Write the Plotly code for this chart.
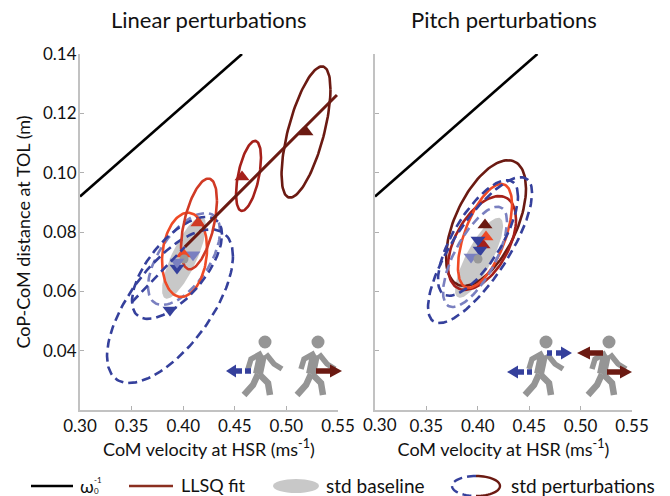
import numpy as np
import plotly.graph_objects as go

W, H = 670, 496
FONT = "Lato"
DARK, MID, RED, ORANGE = "#6b1a12", "#a5201a", "#d03a25", "#ef4a26"
GRAY, LIGHT, BLUE = "#c8c8c8", "#7a80c0", "#35409c"
WALK = "#959595"

x_ticks = [0.30, 0.35, 0.40, 0.45, 0.50, 0.55]
x_labels = ["0.30", "0.35", "0.40", "0.45", "0.50", "0.55"]
y_ticks = [0.04, 0.06, 0.08, 0.10, 0.12, 0.14]
omega_x = [0.30, 0.457]
omega_y = [0.092, 0.14]
omega_xr = [0.30, 0.458]
omega_yr = [0.092, 0.14]
fit_x = [0.4017, 0.549]
fit_y = [0.0750, 0.1262]
fit_blue_x = [0.3504, 0.4017]
fit_blue_y = [0.0564, 0.0750]

left_colors = [GRAY, LIGHT, ORANGE, BLUE, BLUE, RED, MID, DARK]
left_cx = [0.4008, 0.4008, 0.4013, 0.3940, 0.3872, 0.4153, 0.4633, 0.5190]
left_cy = [0.0713, 0.0709, 0.0723, 0.0679, 0.0550, 0.0827, 0.0989, 0.1137]
left_sx = [0.0213, 0.0349, 0.0218, 0.0436, 0.0610, 0.0174, 0.0121, 0.0237]
left_sy = [0.0138, 0.0155, 0.0142, 0.0172, 0.0259, 0.0153, 0.0118, 0.0221]
left_rho = [0.78, 0.60, 0.15, 0.65, 0.65, 0.52, 0.52, 0.65]
left_mx = [0.4008, 0.4095, 0.4000, 0.3940, 0.3872, 0.4143, 0.4570, 0.5190]
left_my = [0.0709, 0.0723, 0.0726, 0.0679, 0.0537, 0.0830, 0.0985, 0.1137]
left_sym = ["circle", "triangle-down", "triangle-up", "triangle-down", "triangle-down",
            "triangle-up", "triangle-up", "triangle-up"]
left_extra_x = [0.3940]
left_extra_y = [0.0699]

right_colors = [GRAY, DARK, MID, ORANGE, LIGHT, BLUE, BLUE]
right_cx = [0.4012, 0.4080, 0.4041, 0.4070, 0.3973, 0.4002, 0.4022]
right_cy = [0.0713, 0.0830, 0.0763, 0.0787, 0.0716, 0.0780, 0.0739]
right_sx = [0.0234, 0.0389, 0.0331, 0.0263, 0.0311, 0.0389, 0.0506]
right_sy = [0.0135, 0.0212, 0.0158, 0.0175, 0.0169, 0.0195, 0.0246]
right_rho = [0.80, 0.55, 0.50, 0.60, 0.70, 0.72, 0.78]
right_mx = [0.4002, 0.4070, 0.4051, 0.4080, 0.3934, 0.4002, 0.4022]
right_my = [0.0709, 0.0824, 0.0756, 0.0783, 0.0716, 0.0773, 0.0739]
right_sym = ["circle", "triangle-up", "triangle-up", "triangle-up",
             "triangle-down", "triangle-down", "triangle-down"]


def ellipse(cx, cy, sx, sy, rho):
    t = np.linspace(0, 2 * np.pi, 121)
    return cx + sx * np.cos(t), cy + sy * (rho * np.cos(t) + np.sqrt(1 - rho ** 2) * np.sin(t))


fig = go.Figure()


def add_panel(cols, cx, cy, sx, sy, rho, mx, my, sym, xa, ya):
    for c, a, b, s, u, r in zip(cols, cx, cy, sx, sy, rho):
        ex, ey = ellipse(a, b, s, u, r)
        if c == GRAY:
            fig.add_trace(go.Scatter(x=ex, y=ey, mode="lines", fill="toself", fillcolor=GRAY,
                                     line=dict(color=GRAY, width=0), xaxis=xa, yaxis=ya, showlegend=False))
        else:
            dash = "9px,5px" if c in (BLUE, LIGHT) else "solid"
            fig.add_trace(go.Scatter(x=ex, y=ey, mode="lines", line=dict(color=c, width=2.6, dash=dash),
                                     xaxis=xa, yaxis=ya, showlegend=False))
    order = [i for i in range(len(cols)) if cols[i] != GRAY] + [i for i in range(len(cols)) if cols[i] == GRAY]
    for i in order:
        fig.add_trace(go.Scatter(x=[mx[i]], y=[my[i]], mode="markers",
                                 marker=dict(color=cols[i] if cols[i] != GRAY else "#999999", symbol=sym[i],
                                             size=13 if sym[i] != "circle" else 9),
                                 xaxis=xa, yaxis=ya, showlegend=False))


fig.add_trace(go.Scatter(x=omega_x, y=omega_y, mode="lines", line=dict(color="black", width=2.6), showlegend=False))
add_panel(left_colors, left_cx, left_cy, left_sx, left_sy, left_rho, left_mx, left_my, left_sym, "x", "y")
fig.add_trace(go.Scatter(x=left_extra_x, y=left_extra_y, mode="markers",
                         marker=dict(color=LIGHT, symbol="triangle-down", size=13), showlegend=False))
fig.add_trace(go.Scatter(x=fit_blue_x, y=fit_blue_y, mode="lines", line=dict(color=BLUE, width=2.6, dash="9px,5px"),
                         showlegend=False))
fig.add_trace(go.Scatter(x=fit_x, y=fit_y, mode="lines", line=dict(color=DARK, width=3), showlegend=False))

fig.add_trace(go.Scatter(x=omega_xr, y=omega_yr, mode="lines", line=dict(color="black", width=2.6),
                         xaxis="x2", yaxis="y2", showlegend=False))
add_panel(right_colors, right_cx, right_cy, right_sx, right_sy, right_rho, right_mx, right_my, right_sym, "x2", "y2")


def P(x, y):
    return f"{x / W:.5f},{1 - y / H:.5f}"


def poly(points, closed=False):
    s = "M" + " L".join(P(x, y) for x, y in points)
    return s + (" Z" if closed else "")


shapes = []


def stroke(points, color, width):
    shapes.append(dict(type="path", xref="paper", yref="paper", path=poly(points),
                       line=dict(color=color, width=width), layer="above"))


def fill(points, color):
    shapes.append(dict(type="path", xref="paper", yref="paper", path=poly(points, True), fillcolor=color,
                       line=dict(color=color, width=0), layer="above"))


def walker(hx, hy):
    shapes.append(dict(type="circle", xref="paper", yref="paper", x0=(hx - 6.5) / W, x1=(hx + 6.5) / W,
                       y0=1 - (hy + 6.5) / H, y1=1 - (hy - 6.5) / H, fillcolor=WALK,
                       line=dict(width=0), layer="above"))
    stroke([(hx - 3, hy + 13), (hx - 7, hy + 32)], WALK, 10)
    stroke([(hx - 3, hy + 11), (hx - 14, hy + 17), (hx - 17, hy + 27)], WALK, 5.5)
    stroke([(hx + 1, hy + 12), (hx + 9, hy + 22), (hx + 17, hy + 27)], WALK, 5.5)
    stroke([(hx - 6, hy + 32), (hx + 3, hy + 41), (hx + 5, hy + 53)], WALK, 6.5)
    stroke([(hx - 7, hy + 32), (hx - 12, hy + 43), (hx - 21, hy + 53)], WALK, 6.5)


def head(tip, base, y, color, half=6.5):
    fill([(tip, y), (base, y - half), (base, y + half)], color)


walker(265, 342)
walker(318, 342)
walker(546, 342)
walker(609, 342)

head(226, 236, 371, BLUE)
stroke([(235, 371), (242, 371)], BLUE, 5.5)
stroke([(245, 371), (251, 371)], BLUE, 5.5)
head(342, 330, 371, DARK)
stroke([(316, 371), (331, 371)], DARK, 5.5)

head(507, 518, 372, BLUE)
stroke([(517, 372), (524, 372)], BLUE, 5.5)
stroke([(527, 372), (532, 372)], BLUE, 5.5)
head(572, 561, 353, BLUE)
stroke([(547, 353), (552, 353)], BLUE, 5.5)
stroke([(556, 353), (562, 353)], BLUE, 5.5)
head(577, 590, 353, DARK)
stroke([(589, 353), (603, 353)], DARK, 5.5)
head(632, 620, 372, DARK)
stroke([(607, 372), (621, 372)], DARK, 5.5)

LY = 486
stroke([(31, LY), (73, LY)], "black", 2.4)
stroke([(129, LY), (173, LY)], "#8a2f20", 2.4)
shapes.append(dict(type="circle", xref="paper", yref="paper", x0=273 / W, x1=319 / W,
                   y0=1 - (LY + 7) / H, y1=1 - (LY - 7) / H, fillcolor=GRAY, line=dict(width=0)))
tt = np.linspace(-np.pi / 2, np.pi / 2, 31)
stroke([(476 + 24 * np.cos(a), LY + 10 * np.sin(a)) for a in tt], DARK, 2.4)
shapes.append(dict(type="path", xref="paper", yref="paper",
                   path=poly([(476 - 24 * np.cos(a), LY + 10 * np.sin(a)) for a in tt]),
                   line=dict(color=BLUE, width=2.4, dash="9px,5px"), layer="above"))


def txt(x, y, s, size=16, xanchor="center"):
    return dict(x=x / W, y=1 - y / H, xref="paper", yref="paper", text=s, showarrow=False,
                xanchor=xanchor, yanchor="middle",
                font=dict(family=FONT, size=size, color="#111111"))


annotations = [
    txt(209, 19, "Linear perturbations", 22),
    txt(503.5, 19, "Pitch perturbations", 22),
    txt(380, 424.5, x_labels[0], 17),
    txt(78, 486, "ω", 18, "left"),
    txt(92, 479.5, "-1", 8, "left"),
    txt(92, 490.5, "0", 8, "left"),
    txt(179, 485, "LLSQ fit", 18, "left"),
    txt(324, 485, "std baseline", 19, "left"),
    txt(509, 485, "std perturbations", 19, "left"),
]

axis_common = dict(showgrid=False, zeroline=False, showline=True, linecolor="#c2c2c2", linewidth=2,
                   ticks="inside", ticklen=4, tickcolor="#b0b0b0", automargin=False,
                   tickfont=dict(family=FONT, size=17, color="#111111"))
xt = dict(text="CoM velocity at HSR (ms<sup>-1</sup>)", font=dict(family=FONT, size=18, color="#111111"), standoff=4)
right_labels = [""] + x_labels[1:]

fig.update_layout(
    width=W, height=H, autosize=False, margin=dict(l=0, r=0, t=0, b=0),
    paper_bgcolor="white", plot_bgcolor="white", showlegend=False,
    xaxis=dict(domain=[80 / W, 338 / W], range=[0.30, 0.55], tickvals=x_ticks, ticktext=x_labels, title=xt,
               anchor="y", **axis_common),
    yaxis=dict(domain=[1 - 410 / H, 1 - 54 / H], range=[0.02, 0.14], tickvals=y_ticks, tickformat=".2f", anchor="x",
               ticklabelstandoff=-2,
               title=dict(text="CoP-CoM distance at TOL (m)", font=dict(family=FONT, size=18, color="#111111"),
                          standoff=8), **axis_common),
    xaxis2=dict(domain=[375 / W, 632 / W], range=[0.30, 0.55], tickvals=x_ticks, ticktext=right_labels, title=xt,
                anchor="y2", **axis_common),
    yaxis2=dict(domain=[1 - 410 / H, 1 - 54 / H], range=[0.02, 0.14], tickvals=y_ticks, showticklabels=False,
                anchor="x2", **axis_common),
    shapes=shapes, annotations=annotations,
)
fig.write_html("out.html", config=dict(displayModeBar=False),
               post_script="document.body.style.margin='0';document.body.style.overflow='hidden';")
